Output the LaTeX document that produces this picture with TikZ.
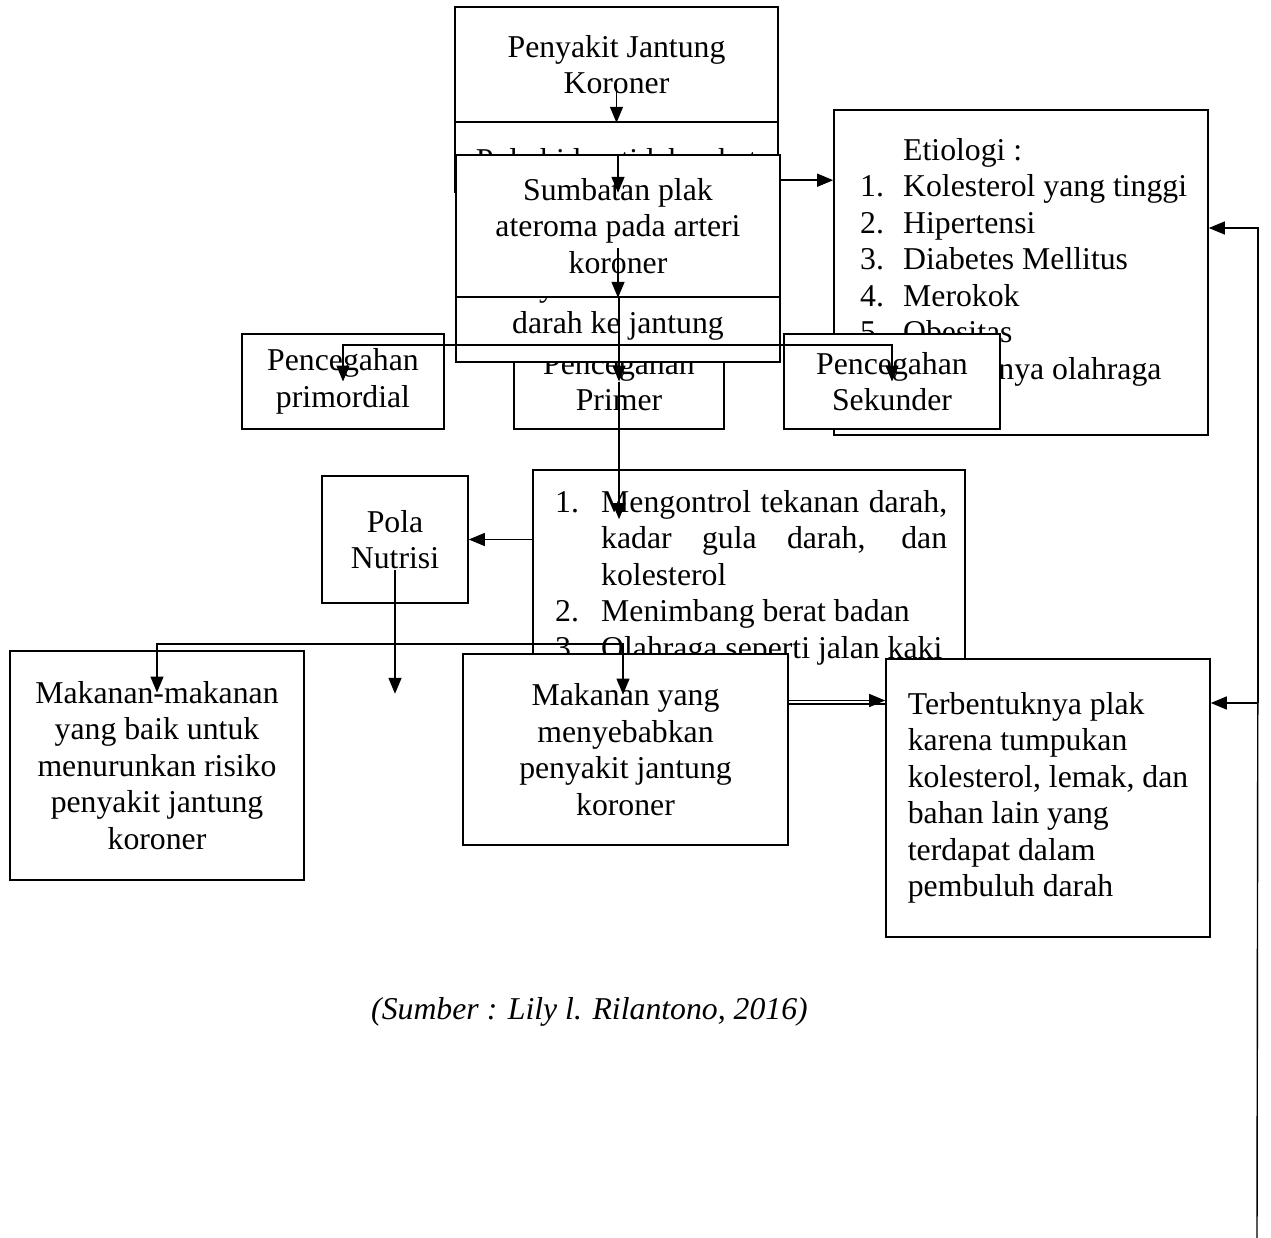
\documentclass[tikz,border=0pt]{standalone}
\usepackage{fontspec}
\setmainfont{Liberation Serif}
\usetikzlibrary{arrows.meta, calc}
\newcommand\mainsize{\fontsize{31.75pt}{36.5pt}\selectfont}
\newcommand\nomor[1]{\makebox[43pt][l]{#1}}
\newcommand\butir[1]{\makebox[46pt][l]{#1}}

\begin{document}
\begin{tikzpicture}[x=1pt, y=-1pt, font=\mainsize,
  kotak/.style={draw, fill=white, line width=1.6pt, inner sep=0pt, align=center},
  ukuran/.style 2 args={minimum width=#1pt, minimum height=#2pt},
  panah/.style={-{Triangle[length=16pt,width=13pt]}, line width=1.4pt}]
\useasboundingbox (0,0) rectangle (1271,1238);

% Main flow
\node[kotak, ukuran={323}{115}] (pjk) at (616.5,64.5) {Penyakit Jantung\\Koroner};
\node[kotak, ukuran={323}{70}] (polahidup) at (616.5,157) {\raisebox{-14pt}[0pt][0pt]{Pola hidup tidak sehat}};
\node[kotak, ukuran={210}{95}] (primer) at (619,381.5) {Pencegahan\\Primer};
\node[kotak, ukuran={324}{109.4}] (aliran) at (618,307.3) {Penyumbatan aliran\\darah ke jantung};
\node[kotak, ukuran={324}{142}] (sumbatan) at (618,226) {Sumbatan plak\\ateroma pada arteri\\koroner};

% Etiologi
\node[kotak, ukuran={374}{325}] (etio) at (1021,272.5) {};
\node[anchor=north west, inner sep=0pt, align=left] (etiotxt) at (860,138) {\hspace*{43pt}Etiologi :\\
  \nomor{1.}Kolesterol yang tinggi\\ \nomor{2.}Hipertensi\\ \nomor{3.}Diabetes Mellitus\\
  \nomor{4.}Merokok\\ \nomor{5.}Obesitas\\ \nomor{6.}Kurangnya olahraga};

% Prevention
\node[kotak, ukuran={202}{95}] (primordial) at (343,381.5) {Pencegahan\\primordial};
\node[kotak, ukuran={216}{95}] (sekunder) at (892,381.5) {Pencegahan\\Sekunder};

% Control list
\node[kotak, ukuran={432}{234}] (list) at (749,587) {};
\node[anchor=north west, inner sep=0pt, text width=392pt, align=justify] (listtxt) at (555,490) {%
  \noindent\hangindent=46pt\butir{1.}Mengontrol tekanan darah, kadar gula darah, dan kolesterol\par
  \noindent\hangindent=46pt\butir{2.}Menimbang berat badan\par
  \noindent\hangindent=46pt\butir{3.}Olahraga seperti jalan kaki\par};

% Nutrition
\node[kotak, ukuran={146}{127}] (pola) at (395,539.5) {Pola\\Nutrisi};
\node[kotak, ukuran={294}{229}] (mkbaik) at (157,765.5) {Makanan-makanan\\yang baik untuk\\menurunkan risiko\\penyakit jantung\\koroner};
\node[kotak, ukuran={325}{191}] (mkburuk) at (625.5,749.5) {Makanan yang\\menyebabkan\\penyakit jantung\\koroner};
\node[kotak, ukuran={324}{278}] (terbentuk) at (1048,798) {};
\node[align=left, inner sep=0pt] (terbtxt) at (terbentuk.center) {Terbentuknya plak\\karena tumpukan\\kolesterol, lemak, dan\\bahan lain yang\\terdapat dalam\\pembuluh darah};

% Source
\node[font=\mainsize\itshape] (sumber) at (589.5,1012) {(Sumber : Lily l. Rilantono, 2016)};

% Arrows
\draw[panah] ($(pjk.center)+(0,20)$) -- (pjk.south);
\draw[panah] (sumbatan.north) -- (sumbatan.north |- polahidup.south);
\draw[panah] ($(sumbatan.center)+(0,22)$) -- (sumbatan.south);
\draw[panah] (sumbatan.south -| primer.center) -- (primer.center);
\draw[panah] (primer.center) -- ($(list.north -| primer.center)+(0,50)$);
\coordinate (cabang) at ($(primer.center)+(0,-36.5)$);
\draw[panah] (cabang) -| (primordial.center);
\draw[panah] (cabang) -| (sekunder.center);
\coordinate (keetio) at ($(sumbatan.north east)+(0,26)$);
\draw[panah] (keetio) -- (keetio -| etio.west);
\draw[panah] (pola.east -| list.west) -- (pola.east);
\draw[panah] ($(pola.center)+(0,30)$) -- ($(pola.south)+(0,90)$);
\coordinate (bagi) at ($(pola.south)+(0,40)$);
\draw[panah] (bagi) -| ($(mkbaik.center)+(0,-73)$);
\draw[panah] (bagi) -| ($(mkburuk.center)+(-2.5,-55)$);
\coordinate (kanan) at ($(mkburuk.east)+(0,-49)$);
\draw[panah] (kanan) -- (kanan -| terbentuk.west);

% Feedback line
\coordinate (bawah) at (1257,1238);
\coordinate (cabangkanan) at ($(terbentuk.east)+(47,-95)$);
\draw[line width=1.4pt] (bawah) -- (cabangkanan);
\draw[panah] (cabangkanan) -- (cabangkanan -| terbentuk.east);
\draw[panah] (cabangkanan) |- ($(etio.east)+(0,-44.5)$);
\end{tikzpicture}
\end{document}
